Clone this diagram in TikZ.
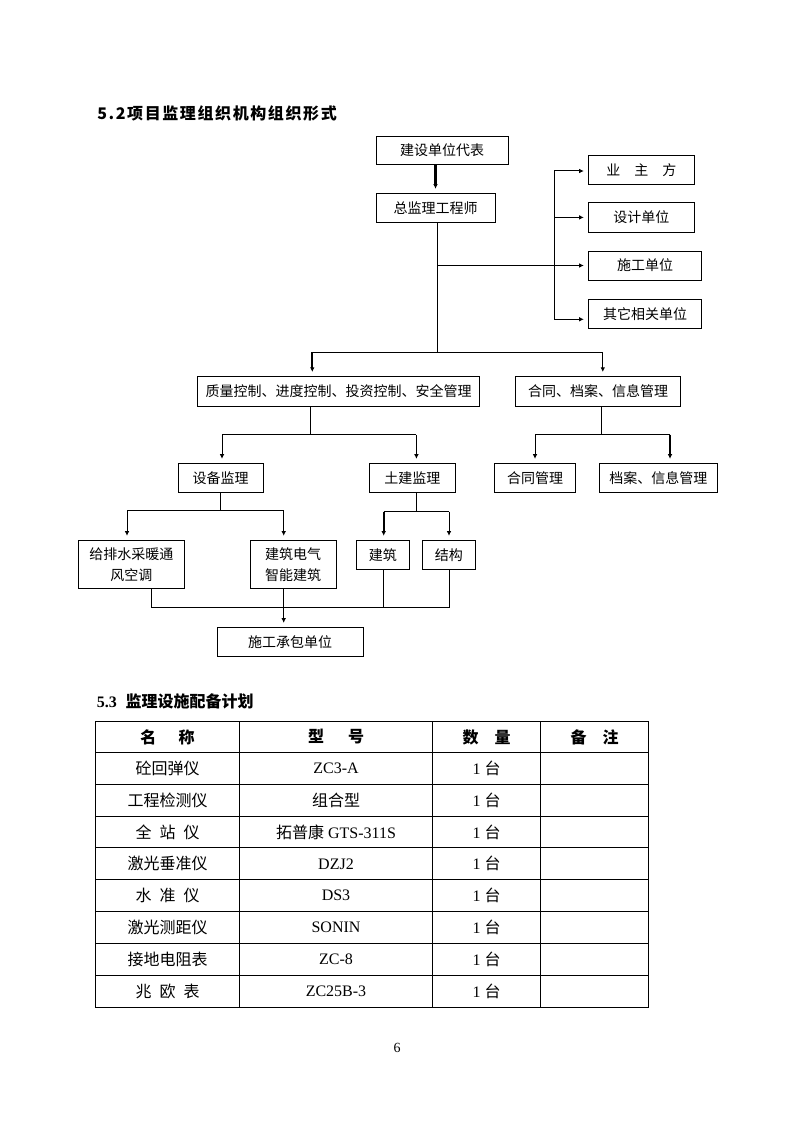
\documentclass[tikz,border=0pt]{standalone}
\usepackage{fontspec}
\setmainfont{Liberation Serif}
\newfontfamily\cjk{Noto Sans CJK SC}
\newfontfamily\cjktitle[LetterSpace=10]{Noto Sans CJK SC}
\usetikzlibrary{arrows.meta,calc}

\tikzset{
  box/.style={draw,line width=0.75pt,inner sep=0pt,align=center,
    font=\cjk\fontsize{10.5}{15.75}\selectfont},
  dims/.style 2 args={minimum width=#1*0.75pt,minimum height=#2*0.75pt},
  link/.style={line width=0.75pt},
  arr/.style={link,-{Latex[length=3.5pt,width=3.5pt]},shorten >=3pt},
  arrbold/.style={arr,line width=1.6pt},
  cell/.style={inner sep=0pt,font=\fontsize{12}{14}\selectfont},
}

\begin{document}
\begin{tikzpicture}[x=0.75pt,y=-0.75pt]
\fill[white] (0,0) rectangle (794,1123);
\useasboundingbox (0,0) rectangle (794,1123);

\node[anchor=west,inner sep=0pt] (title52) at (97,113.5)
  {\cjktitle\bfseries\fontsize{12}{14}\selectfont 5.2项目监理组织机构组织形式};

\node[box,dims={132.3}{28.3}] (rep) at (442.2,150.2) {建设单位代表};
\node[box,dims={119}{29}] (chief) at (435.5,207.8) {总监理工程师};
\node[box,dims={106}{28.3}] (owner) at (641.3,169.9) {业　主　方};
\node[box,dims={106}{29.3}] (design) at (641.3,217.4) {设计单位};
\node[box,dims={113.4}{29}] (builder) at (645,265.5) {施工单位};
\node[box,dims={113.4}{28.7}] (others) at (645,313.7) {其它相关单位};
\node[box,dims={282}{29.7}] (quality) at (338.5,391.3) {质量控制、进度控制、投资控制、安全管理};
\node[box,dims={165.6}{29.7}] (contract) at (598.1,391.3) {合同、档案、信息管理};
\node[box,dims={85}{28.7}] (equip) at (220.7,477.7) {设备监理};
\node[box,dims={85.8}{28.7}] (civil) at (412.3,477.7) {土建监理};
\node[box,dims={81.4}{28.7}] (contractmg) at (535,477.7) {合同管理};
\node[box,dims={118}{28.7}] (archive) at (658.3,477.7) {档案、信息管理};
\node[box,dims={106}{48}] (hvac) at (131.3,564.3) {给排水采暖通\\风空调};
\node[box,dims={85.7}{48}] (elec) at (293.2,564.3) {建筑电气\\智能建筑};
\node[box,dims={53}{29}] (arch) at (382.8,554.8) {建筑};
\node[box,dims={53}{29}] (struct) at (448.8,554.8) {结构};
\node[box,dims={145.7}{28.7}] (contractor) at (290.2,641.7) {施工承包单位};

\coordinate (t2) at (437,352);
\coordinate (t2l) at (312.3,352);
\coordinate (t2r) at (602.8,352);
\coordinate (bus1) at (554,171);
\coordinate (bus2) at (554,319.3);
\coordinate (t3) at (310.6,434.5);
\coordinate (t3l) at (222,434.5);
\coordinate (t3r) at (416.4,434.5);
\coordinate (t4) at (601.7,434.5);
\coordinate (t4l) at (535,434.5);
\coordinate (t4r) at (670,434.5);
\coordinate (t5) at (220.3,510.3);
\coordinate (t5l) at (127,510.3);
\coordinate (t5r) at (283.7,510.3);
\coordinate (t6) at (416.3,511.7);
\coordinate (t6l) at (383.7,511.7);
\coordinate (t6r) at (449,511.7);
\coordinate (bl) at (151.3,607.3);
\coordinate (br) at (449,607.3);

\draw[arrbold] (rep.south -| chief.north) -- (chief.north);
\draw[link] (chief.south -| t2) -- (t2);
\draw[link] (bus1) -- (bus2);
\draw[arr] (bus1) -- (bus1 -| owner.west);
\draw[arr] (bus1 |- design) -- (design.west);
\draw[arr] (t2 |- builder) -- (builder.west);
\draw[arr] (bus2) -- (bus2 -| others.west);

\draw[link] (t2l) -- (t2r);
\draw[arrbold] (t2l) -- (t2l |- quality.north);
\draw[arr] (t2r) -- (t2r |- contract.north);

\draw[link] (t3 |- quality.south) -- (t3);
\draw[link] (t3l) -- (t3r);
\draw[arr] (t3l) -- (t3l |- equip.north);
\draw[arr] (t3r) -- (t3r |- civil.north);

\draw[link] (t4 |- contract.south) -- (t4);
\draw[link] (t4l) -- (t4r);
\draw[arr] (t4l) -- (t4l |- contractmg.north);
\draw[arrbold] (t4r) -- (t4r |- archive.north);

\draw[link] (t5 |- equip.south) -- (t5);
\draw[link] (t5l) -- (t5r);
\draw[arr] (t5l) -- (t5l |- hvac.north);
\draw[arr] (t5r) -- (t5r |- elec.north);

\draw[link] (t6 |- civil.south) -- (t6);
\draw[link] (t6l) -- (t6r);
\draw[arrbold] (t6l) -- (t6l |- arch.north);
\draw[arr] (t6r) -- (t6r |- struct.north);

\draw[link] (bl |- hvac.south) -- (bl) -- (br) -- (br |- struct.south);
\draw[link] (t6l |- arch.south) -- (t6l |- bl);
\draw[arr] (t5r |- elec.south) -- (t5r |- contractor.north);

\node[anchor=west,inner sep=0pt] (title53) at (96.5,701.5)
  {\bfseries\fontsize{12}{14}\selectfont 5.3\hspace{0.55em}{\cjk 监理设施配备计划}};

\draw[link] (95.7,721.7) rectangle (648.7,1007.3);
\foreach \x in {239.3,432.7,540.7}
  \draw[link] (\x,721.7) -- (\x,1007.3);
\foreach \i in {0,...,7}
  \draw[link] (95.7,{752.3+31.875*\i}) -- (648.7,{752.3+31.875*\i});

\node[cell] (h1) at (167.5,737) {\cjk\bfseries 名\hspace{1.4em}称};
\node[cell] (h2) at (336,737) {\cjk\bfseries 型\hspace{1.5em}号};
\node[cell] (h3) at (486.7,737) {\cjk\bfseries 数\hspace{1em}量};
\node[cell] (h4) at (594.7,737) {\cjk\bfseries 备\hspace{1em}注};

\foreach \i/\name/\model in {
  1/{砼回弹仪}/{ZC3-A},
  2/{工程检测仪}/{{\cjk 组合型}},
  3/{全\hspace{0.5em}站\hspace{0.5em}仪}/{{\cjk 拓普康} GTS-311S},
  4/{激光垂准仪}/{DZJ2},
  5/{水\hspace{0.5em}准\hspace{0.5em}仪}/{DS3},
  6/{激光测距仪}/{SONIN},
  7/{接地电阻表}/{ZC-8},
  8/{兆\hspace{0.5em}欧\hspace{0.5em}表}/{ZC25B-3}} {
  \node[cell] (name\i) at (167.5,{752.3+31.875*(\i-0.5)}) {\cjk\name};
  \node[cell] (model\i) at (336,{752.3+31.875*(\i-0.5)}) {\model};
  \node[cell] (qty\i) at (486.7,{752.3+31.875*(\i-0.5)}) {1 {\cjk 台}};
}

\node[inner sep=0pt,font=\fontsize{10.5}{12}\selectfont] (pagenum) at (397,1048) {6};
\end{tikzpicture}
\end{document}
